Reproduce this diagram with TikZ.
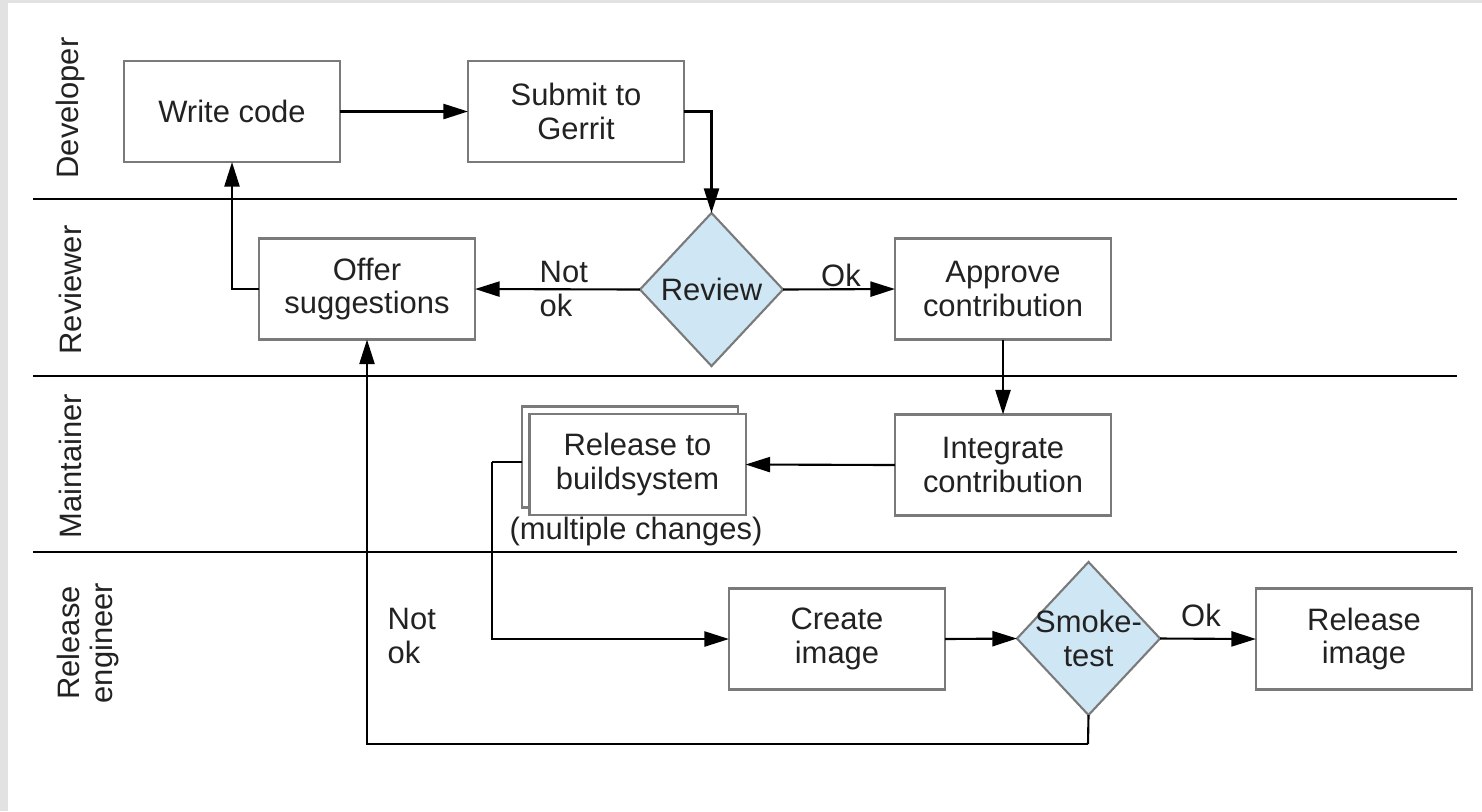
\documentclass[tikz,border=0pt]{standalone}
\usepackage{fontspec}
\setmainfont{Liberation Sans}
\usetikzlibrary{arrows.meta,shapes.geometric}
\definecolor{boxline}{HTML}{7A7A7A}
\definecolor{txt}{HTML}{222222}
\definecolor{decfill}{HTML}{CFE6F4}
\definecolor{frame}{HTML}{E2E2E2}
\tikzset{
  procbox/.style={draw=boxline, line width=0.6pt, fill=white, minimum width=2.16cm, minimum height=1.01cm, inner sep=0pt, outer sep=0pt, align=center, text=txt},
  decision/.style={diamond, draw=boxline, line width=0.6pt, fill=decfill, minimum width=1.43cm, minimum height=1.53cm, inner sep=0pt, outer sep=0pt},
  dtext/.style={align=center, text=txt, inner sep=0pt},
  lbl/.style={align=left, text=txt, inner sep=0pt},
  lane/.style={rotate=90, align=center, text=txt, inner sep=0pt},
  sep/.style={line width=0.6pt, draw=black},
  conn/.style={line width=0.6pt, draw=black, -{Triangle[length=7pt,width=4.3pt]}},
  plain/.style={line width=0.6pt, draw=black}
}
\begin{document}
\begin{tikzpicture}[x=0.01cm, y=-0.01cm, font=\fontsize{8.8}{9.6}\selectfont]
\useasboundingbox (0,0) rectangle (1482,811);
\fill[frame] (0,0) rectangle (1482,811);
\fill[white] (8,3) rectangle (1482,811);
% lane separators
\draw[sep] (33,199) -- (1457,199);
\draw[sep] (33,376) -- (1457,376);
\draw[sep] (33,552) -- (1457,552);
% lane labels
\node[lane] (ldev) at (70,108) {Developer};
\node[lane] (lrev) at (70,290) {Reviewer};
\node[lane] (lmai) at (70,466) {Maintainer};
\node[lane] (lrel) at (88,643) {Release\\engineer};
% nodes
\node[procbox] (wc) at (232,111.5) {Write code};
\node[procbox] (sub) at (576,111.5) {Submit to\\Gerrit};
\node[decision] (rev) at (711.5,289.5) {};
\node[dtext] (revt) at (rev) {Review};
\node[procbox] (off) at (367,289) {Offer\\suggestions};
\node[procbox] (app) at (1003,289) {Approve\\contribution};
\node[procbox] (int) at (1003,465) {Integrate\\contribution};
\node[procbox] (relb) at (630,457) {};
\node[procbox] (rel) at (637.5,464.5) {Release to\\buildsystem};
\node[dtext] (mult) at (636,531) {(multiple changes)};
\node[procbox] (ci) at (837,639) {Create\\image};
\node[decision] (smk) at (1088.5,638.5) {};
\node[dtext] (smkt) at (smk) {Smoke-\\test};
\node[procbox] (ri) at (1364,639) {Release\\image};
% edge labels
\node[lbl, anchor=west] (nok1) at (539,289) {Not\\ok};
\node[lbl] (ok1) at (841,275) {Ok};
\node[lbl, anchor=west] (nok2) at (387,636) {Not\\ok};
\node[lbl] (ok2) at (1201,615) {Ok};
% connectors
\coordinate (rl) at (492,462);
\coordinate (loop) at (1088,744);
\draw[conn] (wc.east) -- (sub.west);
\draw[conn] (sub.east) -| (rev.north);
\draw[conn] (rev.west) -- (off.east);
\draw[conn] (rev.east) -- (app.west);
\draw[conn] (off.west) -| (wc.south);
\draw[conn] (app.south) -- (int.north);
\draw[conn] (int.west) -- (rel.east);
\draw[plain] (relb.west |- rl) -- (rl);
\draw[conn] (rl) |- (ci.west);
\draw[conn] (ci.east) -- (smk.west);
\draw[conn] (smk.east) -- (ri.west);
\draw[plain] (smk.south) -- (loop);
\draw[conn] (loop) -| (off.south);
\end{tikzpicture}
\end{document}
